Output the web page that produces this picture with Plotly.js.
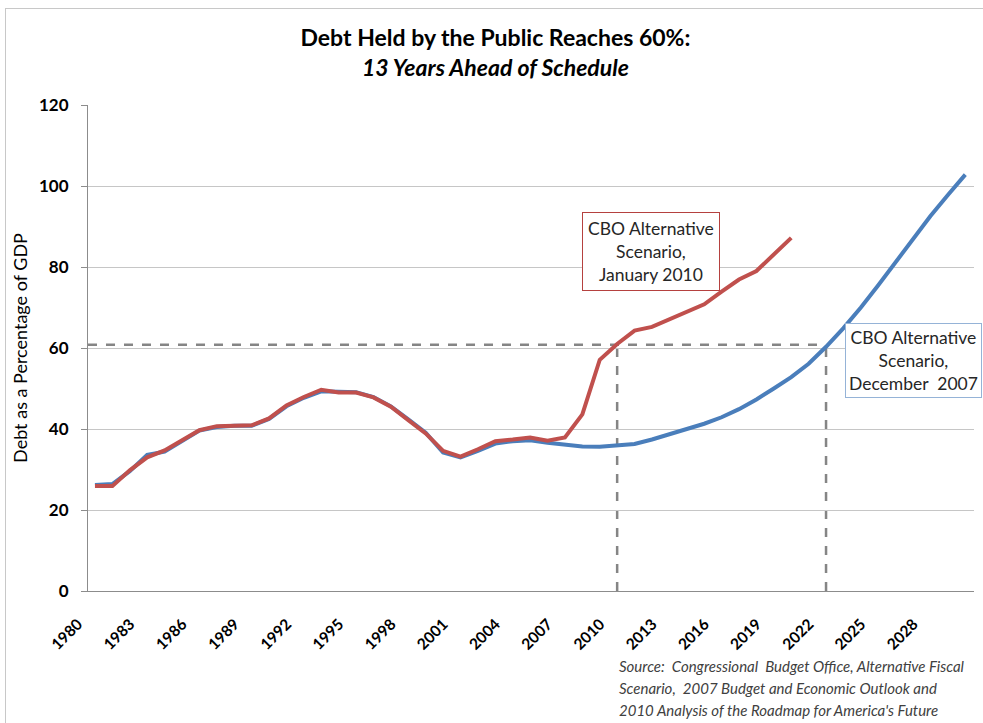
<!DOCTYPE html>
<html>
<head>
<meta charset="utf-8">
<script src="https://cdn.plot.ly/plotly-3.0.1.min.js"></script>
<style>
  html, body { margin: 0; padding: 0; background: #ffffff; }
  #wrap { position: relative; width: 983px; height: 723px; overflow: hidden; }
  #chart { position: absolute; left: 0; top: 0; width: 983px; height: 723px; }
  #frame { position: absolute; left: 5px; top: 8px; width: 1000px; height: 760px;
           border-left: 1px solid #c8c8c8; border-top: 1px solid #c8c8c8; pointer-events: none; }
</style>
</head>
<body>
<div id="wrap">
  <div id="chart"></div>
  <div id="frame"></div>
</div>
<script>
// ---- Data ----
const redYears = [1980,1981,1982,1983,1984,1985,1986,1987,1988,1989,
                  1990,1991,1992,1993,1994,1995,1996,1997,1998,1999,
                  2000,2001,2002,2003,2004,2005,2006,2007,2008,2009,
                  2010,2011,2012,2013,2014,2015,2016,2017,2018,2019,2020];
const redValues = [25.9,25.9,29.8,33.0,34.7,37.2,39.7,40.7,40.9,40.9,
                   42.6,45.8,47.9,49.7,49.0,49.0,47.8,45.5,42.2,38.9,
                   34.6,33.2,35.0,37.0,37.4,37.9,37.1,37.9,43.6,57.1,
                   61.0,64.3,65.2,67.1,69.0,70.8,73.9,76.9,79.0,83.1,87.2];

const blueYears = [1980,1981,1982,1983,1984,1985,1986,1987,1988,1989,
                   1990,1991,1992,1993,1994,1995,1996,1997,1998,1999,
                   2000,2001,2002,2003,2004,2005,2006,2007,2008,2009,
                   2010,2011,2012,2013,2014,2015,2016,2017,2018,2019,
                   2020,2021,2022,2023,2024,2025,2026,2027,2028,2029,2030];
const blueValues = [26.2,26.4,29.6,33.6,34.4,36.9,39.6,40.5,40.8,40.8,
                    42.5,45.6,47.7,49.3,49.1,49.1,47.9,45.6,42.4,39.1,
                    34.2,33.0,34.6,36.4,37.0,37.2,36.6,36.1,35.7,35.6,
                    35.9,36.3,37.4,38.6,40.0,41.3,42.9,44.9,47.3,50.0,
                    52.8,56.1,60.3,64.9,70.0,75.5,81.3,87.2,92.6,97.8,102.8];

const tickYears  = [1980,1983,1986,1989,1992,1995,1998,2001,2004,2007,2010,2013,2016,2019,2022,2025,2028];
const tickLabels = ["1980","1983","1986","1989","1992","1995","1998","2001","2004","2007","2010","2013","2016","2019","2022","2025","2028"];

const threshold = 60.8;          // 60% reference level
const redCrossYear = 2010;       // Jan 2010 scenario reaches 60%
const blueCrossYear = 2022;      // Dec 2007 scenario reaches 60%

const titleLine1 = "Debt Held by the Public Reaches 60%:";
const titleLine2 = "13 Years Ahead of Schedule";
const yTitle = "Debt as a Percentage of GDP";
const redLabel = "CBO Alternative<br>Scenario,<br>January 2010";
const blueLabel = "CBO Alternative<br>Scenario,<br>December  2007";
const sourceLines = [
  "Source:  Congressional  Budget Office, Alternative Fiscal",
  "Scenario,  2007 Budget and Economic Outlook and",
  "2010 Analysis of the Roadmap for America's Future"
];

// ---- Chart ----
const FONT = "Lato, 'Open Sans', 'DejaVu Sans', sans-serif";

const traces = [
  { x: blueYears, y: blueValues, type: 'scatter', mode: 'lines', name: 'Dec 2007',
    line: { color: '#4a7ebb', width: 4 }, hoverinfo: 'x+y' },
  { x: redYears, y: redValues, type: 'scatter', mode: 'lines', name: 'Jan 2010',
    line: { color: '#c0504d', width: 4 }, hoverinfo: 'x+y' }
];

const dashLine = { color: '#858585', width: 2.5, dash: 'dash' };

const annotations = [
  { xref: 'x', yref: 'y', x: 2011.95, y: 83.9, text: redLabel, showarrow: false,
    xanchor: 'center', yanchor: 'middle', align: 'center',
    font: { family: FONT, size: 17.5, color: '#262626' },
    bordercolor: '#b5413f', borderwidth: 1, borderpad: 5, bgcolor: '#ffffff' },
  { xref: 'x', yref: 'y', x: 2027.0, y: 56.9, text: blueLabel, showarrow: false,
    xanchor: 'center', yanchor: 'middle', align: 'center',
    font: { family: FONT, size: 17.5, color: '#262626' },
    bordercolor: '#95b3d7', borderwidth: 1, borderpad: 3, bgcolor: '#ffffff' }
];
sourceLines.forEach(function (t, i) {
  annotations.push({
    xref: 'paper', yref: 'paper', x: 0.597, y: -0.131 - i * 0.046,
    xanchor: 'left', yanchor: 'top', align: 'left', showarrow: false,
    text: '<i>' + t + '</i>',
    font: { family: FONT, size: 15, color: '#404040' }
  });
});

const layout = {
  width: 983, height: 723, autosize: false,
  margin: { l: 88, r: 9, t: 105, b: 132, pad: 0 },
  paper_bgcolor: '#ffffff', plot_bgcolor: '#ffffff',
  showlegend: false,
  title: {
    text: '<b>' + titleLine1 + '</b><br><b><i>' + titleLine2 + '</i></b>',
    font: { family: FONT, size: 23, color: '#000000' },
    xref: 'container', x: 0.504, xanchor: 'center',
    yref: 'container', y: 0.936, yanchor: 'top'
  },
  xaxis: {
    range: [1979.6, 2030.5],
    showgrid: false, zeroline: false,
    showline: true, linecolor: '#8c8c8c', linewidth: 1,
    ticks: '', tickmode: 'array', tickvals: tickYears, ticktext: tickLabels,
    tickangle: -45, ticklabelstandoff: 17, ticklabelshift: -17,
    tickfont: { family: FONT, size: 15.5, weight: 'bold', color: '#000000' }
  },
  yaxis: {
    range: [0, 120], dtick: 20, tick0: 0,
    showgrid: true, gridcolor: '#c6c6c6', gridwidth: 1,
    zeroline: false,
    showline: true, linecolor: '#8c8c8c', linewidth: 1,
    ticks: 'outside', ticklen: 6, tickcolor: '#8c8c8c',
    ticklabelstandoff: 9,
    tickfont: { family: FONT, size: 17, weight: 'bold', color: '#000000' },
    title: { text: yTitle, font: { family: FONT, size: 18, color: '#000000' }, standoff: 6 }
  },
  shapes: [
    { type: 'line', xref: 'x', yref: 'y', x0: 1979.6, x1: blueCrossYear, y0: threshold, y1: threshold, line: dashLine, layer: 'below' },
    { type: 'line', xref: 'x', yref: 'y', x0: redCrossYear, x1: redCrossYear, y0: 0, y1: threshold, line: dashLine, layer: 'below' },
    { type: 'line', xref: 'x', yref: 'y', x0: blueCrossYear, x1: blueCrossYear, y0: 0, y1: threshold, line: dashLine, layer: 'below' }
  ],
  annotations: annotations
};

Plotly.newPlot('chart', traces, layout, { displayModeBar: false, staticPlot: true });
</script>
</body>
</html>
